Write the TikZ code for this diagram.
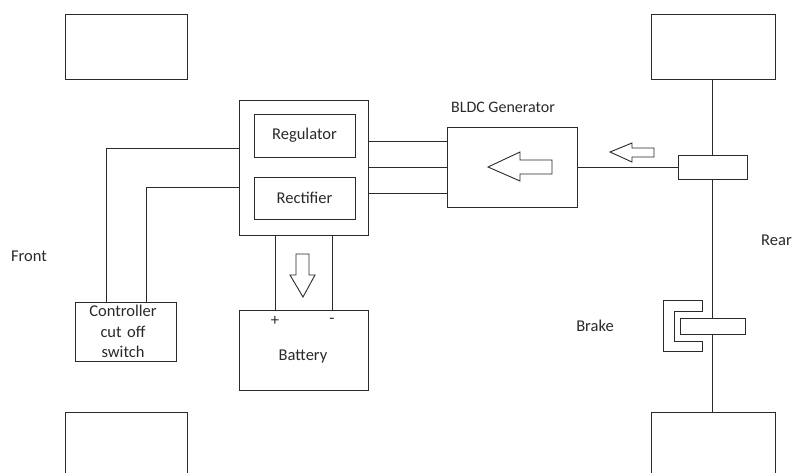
\documentclass[tikz,border=0pt]{standalone}
\usepackage{fontspec}
\setmainfont{Carlito}
\definecolor{ink}{HTML}{2A2A2A}
\tikzset{
  box/.style={draw=ink,line width=1pt,fill=white,rectangle,inner sep=0pt,outer sep=0pt},
  wire/.style={draw=ink,line width=1pt},
  hollow/.style={draw=ink,line width=0.9pt,fill=white,line join=miter},
  lbl/.style={text=ink,font=\fontsize{16.5}{20}\selectfont,inner sep=0pt,align=center}
}
\begin{document}
\begin{tikzpicture}[x=1pt,y=-1pt]
\useasboundingbox (0,0) rectangle (792,472);
\clip (0,0) rectangle (792,472);
\fill[white] (0,0) rectangle (792,472);
% wheels
\node[box,minimum width=122pt,minimum height=65pt] (wfl) at (126,46.5) {};
\node[box,minimum width=124pt,minimum height=65pt] (wfr) at (713,46.5) {};
\node[box,minimum width=122pt,minimum height=80pt] (wbl) at (126,452) {};
\node[box,minimum width=124pt,minimum height=80pt] (wbr) at (713,452) {};
% rear axle
\coordinate (axtop) at (712,79);
\coordinate (axbot) at (712,412);
\draw[wire] (axtop) -- (axbot);
% main blocks
\node[box,minimum width=129pt,minimum height=135pt] (main) at (303.5,167.5) {};
\node[box,minimum width=101pt,minimum height=43pt] (reg) at (304.5,135.5) {};
\node[lbl] at (reg.center) {Regulator};
\node[box,minimum width=101pt,minimum height=42pt] (rect) at (304.5,198) {};
\node[lbl] at (rect.center) {Rectifier};
\node[box,minimum width=130pt,minimum height=80pt] (gen) at (512,167) {};
\node[lbl,font=\fontsize{16}{20}\selectfont] (genlbl) at (503,107) {BLDC Generator};
\node[box,minimum width=69pt,minimum height=24pt] (hub) at (712.5,167) {};
\node[box,minimum width=129pt,minimum height=80pt] (bat) at (303.5,350) {};
\node[lbl] (batlbl) at (303,357) {Battery};
\node[lbl] (plus) at (275,321) {+};
\node[lbl] (minus) at (332,321) {-};
\node[box,minimum width=101pt,minimum height=59pt] (ctl) at (125.5,331.5) {};
\node[lbl,text width=101pt,font=\fontsize{16.5}{20.7}\selectfont] (ctllbl) at (123,331.5) {Controller\\cut off\\switch};
% connectors
\draw[wire] (main.east |- 0,141.5) -- (gen.west |- 0,141.5);
\draw[wire] (main.east |- 0,167) -- (gen.west |- 0,167);
\draw[wire] (main.east |- 0,193) -- (gen.west |- 0,193);
\draw[wire] (gen.east) -- (hub.west);
\draw[wire] (main.south -| 275,0) -- (bat.north -| 275,0);
\draw[wire] (main.south -| 332,0) -- (bat.north -| 332,0);
\draw[wire] (ctl.north -| 106,0) |- (main.west |- 0,148);
\draw[wire] (ctl.north -| 146,0) |- (main.west |- 0,187);
% hollow arrows
\draw[hollow] (488,167) -- (520,152) -- (520,160) -- (552,160) -- (552,174) -- (520,174) -- (520,181) -- cycle;
\draw[hollow] (610,152) -- (632,143) -- (632,148) -- (654,148) -- (654,157) -- (632,157) -- (632,162) -- cycle;
\draw[hollow] (296,254) -- (309,254) -- (309,275) -- (315,275) -- (303,297) -- (290,275) -- (296,275) -- cycle;
% brake
\draw[wire,fill=white] (702.5,300) -- (663,300) -- (663,351) -- (702.5,351) -- (702.5,341) -- (674,341) -- (674,311) -- (702.5,311) -- cycle;
\node[box,minimum width=65pt,minimum height=16pt] (disc) at (712.5,326) {};
% labels
\node[lbl] (front) at (29,256) {Front};
\node[lbl,anchor=west] (rear) at (761,240) {Rear};
\node[lbl] (brake) at (595,326) {Brake};
\end{tikzpicture}
\end{document}
